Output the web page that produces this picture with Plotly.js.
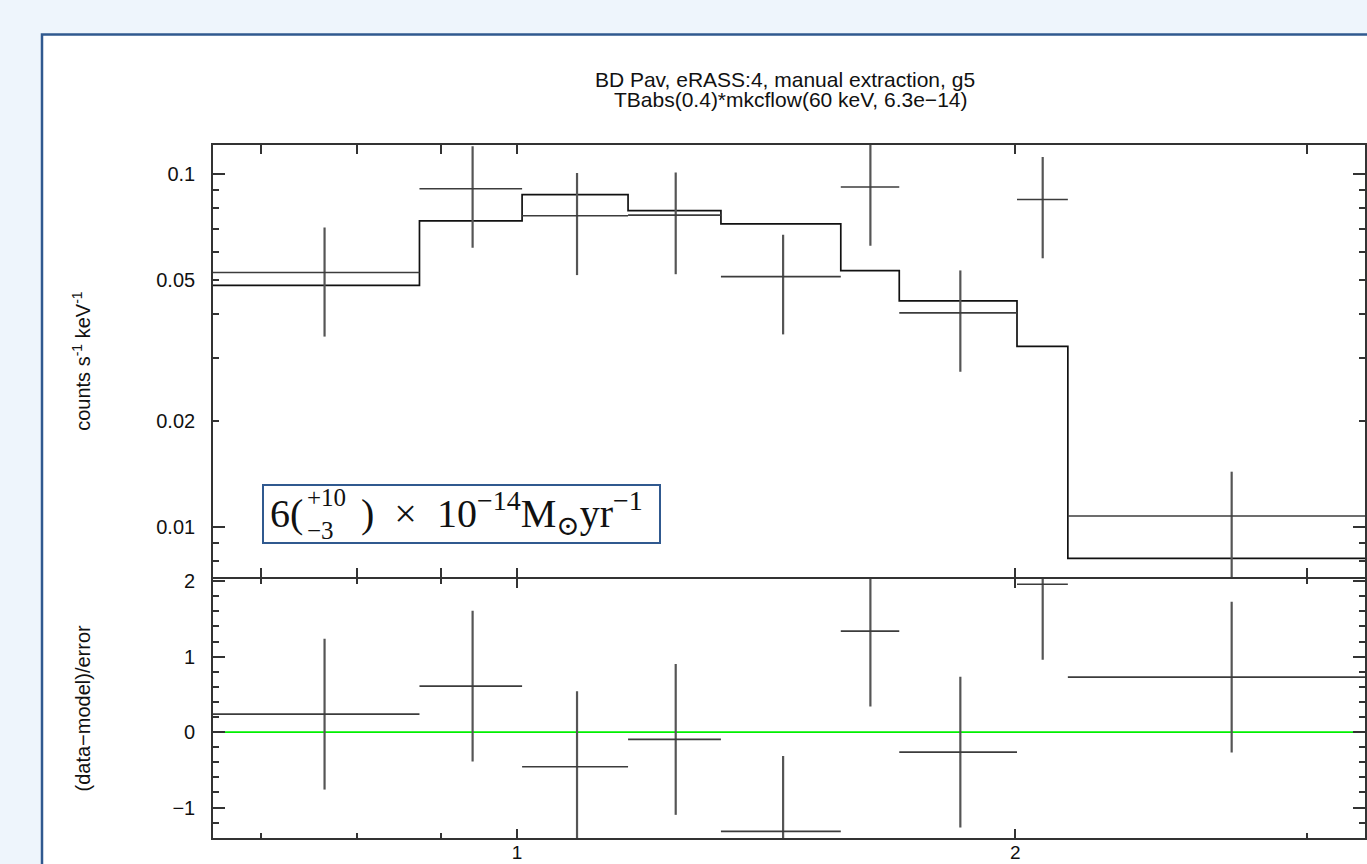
<!DOCTYPE html>
<html>
<head>
<meta charset="utf-8">
<script src="https://cdn.plot.ly/plotly-3.0.1.min.js"></script>
<style>
html, body { margin: 0; padding: 0; background: #eef5fc; }
#chart { width: 1367px; height: 864px; }
</style>
</head>
<body>
<div id="chart"></div>
<script>
// ---- data (energy in keV) ----
const binLo     = [0.655, 0.873, 1.007, 1.167, 1.328, 1.569, 1.702, 2.005, 2.152];
const binHi     = [0.873, 1.007, 1.167, 1.328, 1.569, 1.702, 2.005, 2.152, 3.254];
const binCenter = [0.765, 0.940, 1.087, 1.247, 1.448, 1.635, 1.853, 2.078, 2.703];
const rate      = [0.0526, 0.0909, 0.0762, 0.0765, 0.0512, 0.0919, 0.0404, 0.0847, 0.01072];
const rateErr   = [0.0180, 0.0291, 0.0245, 0.0245, 0.0161, 0.0293, 0.0129, 0.0270, 0.0036];
const model     = [0.04835, 0.0737, 0.0874, 0.0788, 0.0722, 0.0532, 0.0437, 0.03248, 0.00813];
const resid     = [0.238, 0.609, -0.46, -0.097, -1.316, 1.338, -0.265, 1.96, 0.729];
const residErr  = [1, 1, 1, 1, 1, 1, 1, 1, 1];

const xTickVals   = [1, 2];
const xTickText   = ['1', '2'];
const xMinorVals  = [0.7, 0.8, 0.9, 3];
const yTickVals   = [0.01, 0.02, 0.05, 0.1];
const yTickText   = ['0.01', '0.02', '0.05', '0.1'];
const yMajorLong  = [0.01, 0.1];
const yMinorVals  = [0.008, 0.009, 0.02, 0.03, 0.04, 0.05, 0.06, 0.07, 0.08, 0.09];
const rTickVals   = [-1, 0, 1, 2];

const titleLine1 = 'BD Pav, eRASS:4, manual extraction, g5';
const titleLine2 = 'TBabs(0.4)*mkcflow(60 keV, 6.3e\u221214)';
const yTitleTop  = 'counts s<sup>-1</sup> keV<sup>-1</sup>';
const yTitleBot  = '(data\u2212model)/error';
const rateLabelMain  = ')\u2002\u00d7\u200210<sup>\u221214</sup>M<sub>\u2299</sub>yr<sup>\u22121</sup>';
const rateLabelStack = '+10<br>\u22123';

// ---- geometry helpers (pixel -> paper) ----
const L = 213, R = 1365, T = 145, B = 838, MID = 578;
const W = R - L, H = B - T;
const LW = 1.6;
const px = v => (v - L) / W;
const py = v => (B - v) / H;

const sans  = 'Liberation Sans, Arial, Helvetica, sans-serif';
const serif = 'Liberation Serif, Times New Roman, DejaVu Serif, serif';
const ink = '#111';
const axisFont = { family: sans, size: 20, color: ink };

const stepX = binLo.concat([binHi[binHi.length - 1]]);
const stepY = model.concat([model[model.length - 1]]);
const errPlus  = binHi.map((h, i) => h - binCenter[i]);
const errMinus = binLo.map((l, i) => binCenter[i] - l);

const traces = [
  { // model step
    x: stepX, y: stepY, xaxis: 'x2', yaxis: 'y', type: 'scatter', mode: 'lines',
    line: { shape: 'hv', color: '#111', width: 1.7 }, hoverinfo: 'skip'
  },
  { // data
    x: binCenter, y: rate, xaxis: 'x2', yaxis: 'y', type: 'scatter', mode: 'markers',
    marker: { size: 1, color: 'rgba(0,0,0,0)' },
    error_x: { type: 'data', symmetric: false, array: errPlus, arrayminus: errMinus, width: 0, thickness: 1.6, color: '#3c3c3c' },
    error_y: { type: 'data', array: rateErr, width: 0, thickness: 2.2, color: '#555' }
  },
  { // residuals
    x: binCenter, y: resid, xaxis: 'x', yaxis: 'y2', type: 'scatter', mode: 'markers',
    marker: { size: 1, color: 'rgba(0,0,0,0)' },
    error_x: { type: 'data', symmetric: false, array: errPlus, arrayminus: errMinus, width: 0, thickness: 1.6, color: '#3c3c3c' },
    error_y: { type: 'data', array: residErr, width: 0, thickness: 2.2, color: '#555' }
  },
  { // carrier for the long-decade-tick overlay axis
    x: [binCenter[0]], y: [rate[0]], xaxis: 'x2', yaxis: 'y3', type: 'scatter', mode: 'markers',
    marker: { size: 1, color: 'rgba(0,0,0,0)' }, hoverinfo: 'skip'
  }
];

const lineStyle = {
  showline: true, linecolor: '#333', linewidth: LW, mirror: 'allticks',
  ticks: 'inside', tickcolor: '#333', tickwidth: 1.5,
  showgrid: false, zeroline: false, tickfont: axisFont
};
const xRange = [Math.log10(binLo[0]), Math.log10(binHi[binHi.length - 1])];
const yRange = [Math.log10(0.00719), Math.log10(0.1209)];
// domains overlap by one line width so the shared boundary line is drawn once
const lowTop = py(MID + LW / 2);
const upBottom = py(MID - LW / 2);

const layout = {
  width: 1367, height: 864,
  margin: { l: L, r: 1367 - R, t: T, b: 864 - B },
  paper_bgcolor: '#eef5fc', plot_bgcolor: 'rgba(0,0,0,0)',
  showlegend: false,
  title: {
    text: titleLine1, font: { family: sans, size: 21, color: ink },
    xref: 'paper', x: px(785), xanchor: 'center',
    yref: 'container', y: 1 - 79.5 / 864, yanchor: 'middle'
  },
  xaxis: Object.assign({}, lineStyle, {
    type: 'log', anchor: 'y2', range: xRange,
    tickmode: 'array', tickvals: xTickVals, ticktext: xTickText, ticklen: 9,
    tickfont: { family: sans, size: 19, color: ink },
    ticklabelstandoff: -4,
    minor: { tickmode: 'array', tickvals: xMinorVals, ticks: 'inside', ticklen: 5, tickcolor: '#333', tickwidth: 1.5 }
  }),
  xaxis2: Object.assign({}, lineStyle, {
    type: 'log', anchor: 'y', matches: 'x', range: xRange, showticklabels: false,
    tickmode: 'array', tickvals: xTickVals, ticklen: 9,
    minor: { tickmode: 'array', tickvals: xMinorVals, ticks: 'inside', ticklen: 5, tickcolor: '#333', tickwidth: 1.5 }
  }),
  yaxis: Object.assign({}, lineStyle, {
    type: 'log', anchor: 'x2', domain: [upBottom, 1], range: yRange,
    tickmode: 'array', tickvals: yTickVals, ticktext: yTickText, ticklen: 6,
    ticklabelstandoff: 12,
    minor: { tickmode: 'array', tickvals: yMinorVals, ticks: 'inside', ticklen: 6, tickcolor: '#333', tickwidth: 1.5 },
    title: { text: yTitleTop, font: axisFont, standoff: 60 }
  }),
  yaxis3: {
    type: 'log', overlaying: 'y', anchor: 'x2', side: 'left', range: yRange,
    showline: true, linecolor: '#333', linewidth: LW, mirror: 'allticks',
    ticks: 'inside', tickmode: 'array', tickvals: yMajorLong, ticklen: 12,
    tickcolor: '#333', tickwidth: 1.5, showticklabels: false, showgrid: false, zeroline: false
  },
  yaxis2: Object.assign({}, lineStyle, {
    anchor: 'x', domain: [0, lowTop], range: [-1.404, 2.032],
    tickmode: 'array', tickvals: rTickVals, ticklen: 12,
    ticklabelstandoff: 12,
    minor: { dtick: 0.2, ticks: 'inside', ticklen: 6, tickcolor: '#333', tickwidth: 1.5 },
    title: { text: yTitleBot, font: axisFont, standoff: 76 }
  }),
  shapes: [
    { type: 'rect', xref: 'paper', yref: 'paper', layer: 'below',
      x0: px(42), x1: px(1400), y0: py(900), y1: py(34.5),
      fillcolor: '#ffffff', line: { color: '#30598f', width: 2.5 } },
    { type: 'line', xref: 'x domain', yref: 'y2', x0: 0, x1: 1, y0: 0, y1: 0,
      layer: 'below', line: { color: '#00f000', width: 1.6 } },
    { type: 'rect', xref: 'paper', yref: 'paper', layer: 'above',
      x0: px(263), x1: px(660), y0: py(543), y1: py(485),
      fillcolor: '#ffffff', line: { color: '#30598f', width: 2 } }
  ],
  annotations: [
    { text: titleLine2, xref: 'paper', yref: 'paper', x: px(790), y: py(99.5),
      xanchor: 'center', yanchor: 'middle', showarrow: false,
      font: { family: sans, size: 21, color: ink } },
    { text: '6(', xref: 'paper', yref: 'paper', x: px(305), y: py(513),
      xanchor: 'right', yanchor: 'middle', showarrow: false,
      font: { family: serif, size: 40, color: ink } },
    { text: rateLabelStack, xref: 'paper', yref: 'paper', x: px(305), y: py(514),
      xanchor: 'left', yanchor: 'middle', align: 'left', showarrow: false,
      font: { family: serif, size: 25, color: ink } },
    { text: rateLabelMain,
      xref: 'paper', yref: 'paper', x: px(359), y: py(513),
      xanchor: 'left', yanchor: 'middle', showarrow: false,
      font: { family: serif, size: 40, color: ink } }
  ]
};

Plotly.newPlot('chart', traces, layout, { displayModeBar: false, responsive: false });
</script>
</body>
</html>
